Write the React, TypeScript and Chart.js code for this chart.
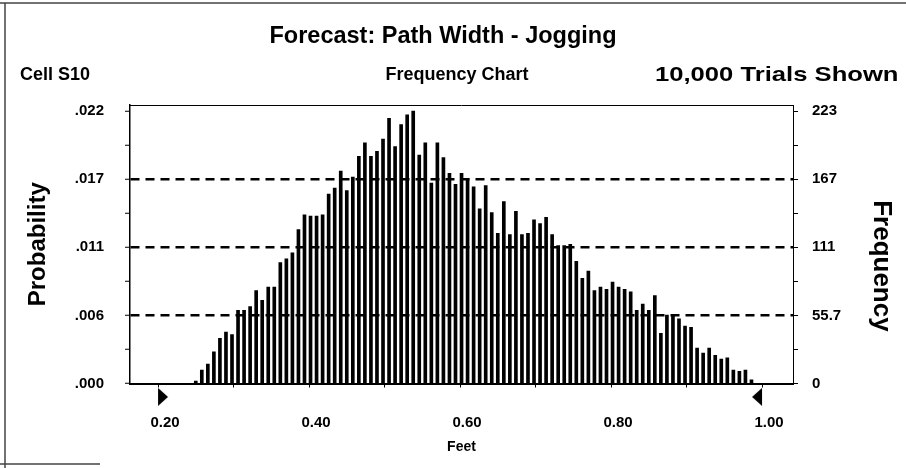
import { useEffect, useRef } from "react";
import { Chart, registerables } from "chart.js";

Chart.register(...registerables);

const FONT = '"Liberation Sans", Arial, Helvetica, sans-serif';

// ---- data ----
const binCenters = [
  0.25, 0.258, 0.266, 0.274, 0.282, 0.29, 0.298, 0.306, 0.314, 0.322,
  0.33, 0.338, 0.346, 0.354, 0.362, 0.37, 0.378, 0.386, 0.394, 0.402,
  0.41, 0.418, 0.426, 0.434, 0.442, 0.45, 0.458, 0.466, 0.474, 0.482,
  0.49, 0.498, 0.506, 0.514, 0.522, 0.53, 0.538, 0.546, 0.554, 0.562,
  0.57, 0.578, 0.586, 0.594, 0.602, 0.61, 0.618, 0.626, 0.634, 0.642,
  0.65, 0.658, 0.666, 0.674, 0.682, 0.69, 0.698, 0.706, 0.714, 0.722,
  0.73, 0.738, 0.746, 0.754, 0.762, 0.77, 0.778, 0.786, 0.794, 0.802,
  0.81, 0.818, 0.826, 0.834, 0.842, 0.85, 0.858, 0.866, 0.874, 0.882,
  0.89, 0.898, 0.906, 0.914, 0.922, 0.93, 0.938, 0.946, 0.954, 0.962,
  0.97, 0.978, 0.986,
];

const frequencies = [
  2, 11, 16, 26, 37, 42, 40, 60, 60, 63,
  76, 68, 79, 79, 99, 102, 107, 126, 138, 137,
  137, 138, 155, 160, 174, 158, 169, 186, 197, 186,
  190, 200, 217, 194, 212, 220, 223, 187, 197, 164,
  197, 185, 172, 163, 172, 168, 161, 143, 162, 140,
  123, 149, 122, 141, 122, 123, 134, 131, 136, 122,
  113, 113, 114, 100, 86, 92, 76, 79, 77, 83,
  79, 77, 75, 60, 65, 60, 72, 41, 56, 56,
  53, 47, 46, 29, 25, 29, 23, 20, 21, 11,
  10, 11, 3,
];

const freqTickValues = [0, 55.75, 111.5, 167.25, 223];
const freqTickLabels = ["0", "55.7", "111", "167", "223"];
const probTickLabels = [".000", ".006", ".011", ".017", ".022"];
const minorTickValues = [27.875, 83.625, 139.375, 195.125];
const gridValues = [55.75, 111.5, 167.25];

const xTickValues = [0.2, 0.3, 0.4, 0.5, 0.6, 0.7, 0.8, 0.9, 1.0];
const xTickLabels = ["0.20", "", "0.40", "", "0.60", "", "0.80", "", "1.00"];

const markerValues = [0.2, 1.0];
const markerLevel = -11;

const titleText = "Forecast: Path Width - Jogging";
const cellLabel = "Cell S10";
const chartKind = "Frequency Chart";
const trialsLabel = "10,000 Trials Shown";
const xTitle = "Feet";
const leftTitle = "Probability";
const rightTitle = "Frequency";

function makeTriangle(dir: "right" | "left") {
  const c = document.createElement("canvas");
  c.width = 22;
  c.height = 18;
  const g = c.getContext("2d")!;
  g.fillStyle = "#000";
  g.beginPath();
  if (dir === "right") {
    g.moveTo(11, 0);
    g.lineTo(21, 9);
    g.lineTo(11, 18);
  } else {
    g.moveTo(11, 0);
    g.lineTo(1, 9);
    g.lineTo(11, 18);
  }
  g.closePath();
  g.fill();
  return c;
}

const headerPlugin = {
  id: "header",
  beforeDraw(chart: any) {
    const ctx = chart.ctx;
    ctx.save();
    ctx.strokeStyle = "#444";
    ctx.lineWidth = 1.5;
    ctx.beginPath();
    ctx.moveTo(0, 3);
    ctx.lineTo(906, 3);
    ctx.moveTo(5, 3);
    ctx.lineTo(5, 468);
    ctx.moveTo(0, 464);
    ctx.lineTo(100, 464);
    ctx.stroke();
    ctx.restore();
  },
  afterDraw(chart: any) {
    const { ctx, chartArea } = chart;
    ctx.save();
    ctx.strokeStyle = "#000";
    ctx.lineWidth = 1;
    ctx.beginPath();
    ctx.moveTo(chartArea.left, chartArea.top + 0.5);
    ctx.lineTo(chartArea.right, chartArea.top + 0.5);
    ctx.stroke();

    ctx.fillStyle = "#000";
    ctx.textBaseline = "middle";
    ctx.font = `bold 23.5px ${FONT}`;
    ctx.textAlign = "center";
    ctx.fillText(titleText, 443, 37);
    ctx.font = `bold 18px ${FONT}`;
    ctx.textAlign = "left";
    ctx.fillText(cellLabel, 20, 75);
    ctx.textAlign = "center";
    ctx.fillText(chartKind, 457, 75);
    // right-hand header text runs off the cropped right edge, as in the scan
    ctx.font = `bold 21px ${FONT}`;
    ctx.textAlign = "left";
    ctx.translate(655, 75);
    ctx.scale(1.22, 1);
    ctx.fillText(trialsLabel, 0, 0);
    ctx.restore();
  },
};

export default function App() {
  const ref = useRef<HTMLCanvasElement>(null);

  useEffect(() => {
    if (!ref.current) return;
    const allY = [...freqTickValues, ...minorTickValues].sort((a, b) => a - b);
    const tickFont = { family: FONT, size: 15, weight: "bold" as const };

    const chart = new Chart(ref.current, {
      type: "bar",
      data: {
        datasets: [
          {
            type: "bar",
            data: binCenters.map((x, i) => ({ x, y: frequencies[i] })),
            backgroundColor: "#000",
            borderWidth: 0,
            barThickness: 3,
            xAxisID: "x",
            yAxisID: "yFreq",
          } as any,
          {
            type: "scatter",
            data: markerValues.map((x) => ({ x, y: markerLevel })),
            pointStyle: [makeTriangle("right"), makeTriangle("left")],
            pointRadius: 22,
            pointBorderWidth: 0,
            clip: false,
            xAxisID: "x",
            yAxisID: "yFreq",
          } as any,
        ],
      },
      options: {
        animation: false,
        responsive: false,
        events: [],
        layout: { padding: { top: 105, left: 0, right: 0, bottom: 0 } },
        plugins: {
          legend: { display: false },
          tooltip: { enabled: false },
        },
        scales: {
          x: {
            type: "linear",
            position: "bottom",
            min: 0.1629,
            max: 1.041,
            offset: false,
            afterBuildTicks: (s: any) => {
              s.ticks = xTickValues.map((v) => ({ value: v }));
            },
            afterFit: (s: any) => {
              s.height = 84.5;
            },
            ticks: {
              autoSkip: false,
              maxRotation: 0,
              padding: 26.5,
              labelOffset: 7,
              color: "#000",
              font: tickFont,
              callback: (v: any) => {
                const i = xTickValues.findIndex((t) => Math.abs(t - Number(v)) < 1e-6);
                return i >= 0 ? xTickLabels[i] : "";
              },
            },
            grid: {
              drawOnChartArea: false,
              drawTicks: true,
              tickLength: 4,
              tickColor: "#000",
              offset: false,
            },
            border: { display: true, color: "#000", width: 2 },
            title: {
              display: true,
              text: xTitle,
              color: "#000",
              font: { family: FONT, size: 14, weight: "bold" },
              padding: { top: 0, bottom: 12.6 },
            },
          },
          yProb: {
            type: "linear",
            position: "left",
            min: 0,
            max: 228,
            afterBuildTicks: (s: any) => {
              s.ticks = allY.map((v) => ({ value: v }));
            },
            afterFit: (s: any) => {
              s.width = 130;
            },
            ticks: {
              autoSkip: false,
              padding: 21,
              color: "#000",
              font: tickFont,
              callback: (v: any) => {
                const i = freqTickValues.indexOf(Number(v));
                return i >= 0 ? probTickLabels[i] : "";
              },
            },
            grid: {
              drawOnChartArea: true,
              drawTicks: true,
              tickLength: 5,
              tickColor: "#000",
              tickWidth: 1,
              lineWidth: 2.5,
              color: (c: any) =>
                c.tick && gridValues.includes(c.tick.value) ? "#000" : "rgba(0,0,0,0)",
            },
            border: { display: true, color: "#000", width: 1.5, dash: [9, 6] },
            title: {
              display: true,
              text: leftTitle,
              color: "#000",
              font: { family: FONT, size: 24, weight: "bold" },
              padding: { top: 23.6, bottom: 0 },
            },
          },
          yFreq: {
            type: "linear",
            position: "right",
            min: 0,
            max: 228,
            afterBuildTicks: (s: any) => {
              s.ticks = allY.map((v) => ({ value: v }));
            },
            afterFit: (s: any) => {
              s.width = 113;
            },
            ticks: {
              autoSkip: false,
              padding: 14,
              color: "#000",
              font: tickFont,
              callback: (v: any) => {
                const i = freqTickValues.indexOf(Number(v));
                return i >= 0 ? freqTickLabels[i] : "";
              },
            },
            grid: {
              drawOnChartArea: false,
              drawTicks: true,
              tickLength: 5,
              tickColor: "#000",
            },
            border: { display: true, color: "#000", width: 1 },
            title: {
              display: true,
              text: "      " + rightTitle,
              color: "#000",
              font: { family: FONT, size: 26, weight: "bold" },
              padding: { top: 9.4, bottom: 0 },
            },
          },
        } as any,
      },
      plugins: [headerPlugin],
    });

    return () => chart.destroy();
  }, []);

  return (
    <div
      style={{
        position: "absolute",
        left: 0,
        top: 0,
        width: 906,
        height: 468,
        background: "#fff",
      }}
    >
      <canvas ref={ref} width={906} height={468} style={{ display: "block" }} />
    </div>
  );
}
